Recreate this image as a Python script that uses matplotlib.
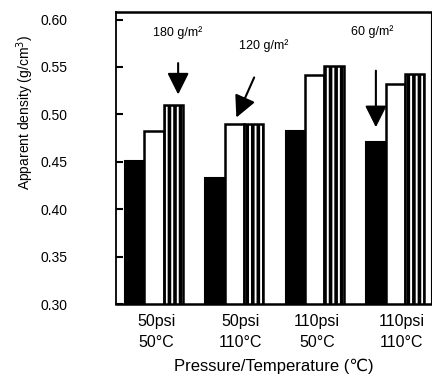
import matplotlib.pyplot as plt
import numpy as np

plt.rcParams['font.family'] = ['Liberation Sans', 'DejaVu Sans']
plt.rcParams['hatch.linewidth'] = 2.6

groups = ['50psi\n50°C', '50psi\n110°C', '110psi\n50°C', '110psi\n110°C']
black_vals = [0.451, 0.433, 0.482, 0.471]
white_vals = [0.482, 0.490, 0.542, 0.532]
striped_vals = [0.510, 0.490, 0.551, 0.543]
yticks = [0.30, 0.35, 0.40, 0.45, 0.50, 0.55, 0.60]

x = np.arange(len(groups))
w = 0.24

fig = plt.figure(figsize=(4.32, 3.85), dpi=100)
ax = fig.add_axes([0.2685, 0.21, 0.73, 0.759])

ax.bar(x - w, black_vals, w, color='black', edgecolor='black', linewidth=1.5)
ax.bar(x, white_vals, w, color='white', edgecolor='black', linewidth=1.8)
ax.bar(x + w, striped_vals, w, color='white', edgecolor='black', linewidth=1.8, hatch='|||')

ax.set_ylim(0.30, 0.608)
ax.set_xlim(-0.473, 3.45)
ax.set_yticks(yticks)
ax.set_yticklabels([f'{v:.2f}' for v in yticks], fontsize=10)
ax.tick_params(axis='y', direction='in', length=5, width=1.5, pad=35)
ax.set_xticks(x + np.array([0.03, 0.08, 0.03, 0.08]))
ax.set_xticklabels(groups, fontsize=11.5, linespacing=1.5)
ax.tick_params(axis='x', length=0, pad=7)

for side in ['top', 'bottom']:
    ax.spines[side].set_linewidth(1.8)
ax.spines['left'].set_linewidth(1.3)
ax.spines['right'].set_linewidth(0.8)

ax.set_ylabel('Apparent density (g/cm$^3$)', fontsize=10)
ax.yaxis.set_label_coords(-0.255, 0.655)
ax.set_xlabel('Pressure/Temperature (℃)', fontsize=12, labelpad=6)

arrow = dict(arrowstyle='-|>,head_length=0.6,head_width=0.3', mutation_scale=22, lw=1.5, color='black')
ax.annotate('', xy=(0.30, 0.518), xytext=(0.30, 0.557), arrowprops=arrow)
ax.annotate('', xy=(1.01, 0.494), xytext=(1.26, 0.5416), arrowprops=arrow)
ax.annotate('', xy=(2.76, 0.4835), xytext=(2.76, 0.549), arrowprops=arrow)
ax.text(0.29, 0.586, '180 g/m²', fontsize=9, ha='center', va='center')
ax.text(1.36, 0.573, '120 g/m²', fontsize=9, ha='center', va='center')
ax.text(2.715, 0.587, '60 g/m²', fontsize=9, ha='center', va='center')

fig.savefig('out.png', dpi=100)
